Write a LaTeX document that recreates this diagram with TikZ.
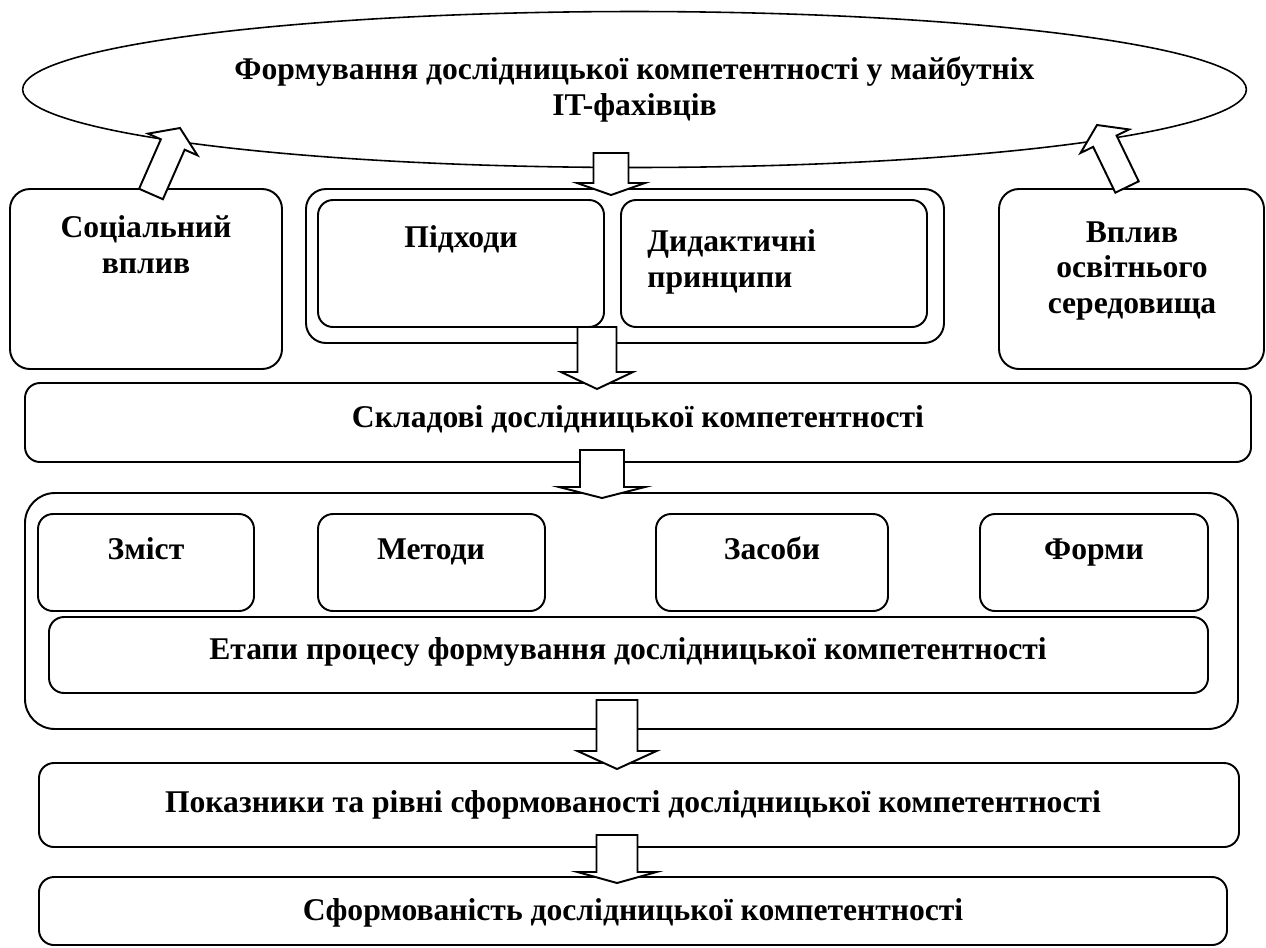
\documentclass[tikz,border=0pt]{standalone}
\usepackage{fontspec}
\setmainfont{Liberation Serif}
\usetikzlibrary{calc,fit,shapes.geometric}

\tikzset{
  box/.style={draw, line width=1.1pt, rounded corners=0.3cm, inner sep=0pt},
  fatarr/.style={draw, fill=white, line width=1.1pt, line join=miter},
  lbl/.style={font=\bfseries\fontsize{18}{20}\selectfont, inner sep=0pt, align=center},
}
% block arrow: start, tip, half shaft, half head, head length
\newcommand{\fatarrow}[5]{%
  \path ($(#2)!#5!(#1)$) coordinate (neck);
  \draw[fatarr] ($(#1)!#3!90:(#2)$) -- ($(neck)!#3!90:(#2)$) -- ($(neck)!#4!90:(#2)$) -- (#2)
    -- ($(neck)!#4!-90:(#2)$) -- ($(neck)!#3!-90:(#2)$) -- ($(#1)!#3!-90:(#2)$) -- cycle;
}

\begin{document}
\begin{tikzpicture}[x=0.02cm, y=-0.02cm]
        \useasboundingbox (0,0) rectangle (1266,947);
        \coordinate (S1) at (151,194);
        \coordinate (T1) at (180,128);
        \coordinate (S2) at (1127,187);
        \coordinate (T2) at (1097,125);
        \coordinate (S3) at (611,153);
        \coordinate (T3) at (611,195);
        \coordinate (S4) at (597,327);
        \coordinate (T4) at (597,389);
        \coordinate (S5) at (602,450);
        \coordinate (T5) at (602,498);
        \coordinate (S6) at (617,700);
        \coordinate (T6) at (617,769);
        \coordinate (S7) at (617,835);
        \coordinate (T7) at (617,883);

        % Goal.
        \node[draw, ellipse, line width=0.9pt, minimum width=24.48cm, minimum height=3.12cm, lbl] (goal) at (634.5,89.5)
            {Формування дослідницької компетентності у майбутніх\\IT-фахівців};

        % Factors.
        \node[box, rounded corners=0.4cm, fit={(10,189) (282,369)}] (soc) {};
        \node[lbl, anchor=base] (socT) at (146,273) {Соціальний\\вплив};
        \node[box, rounded corners=0.4cm, fit={(999,189) (1264,369)}] (vpl) {};
        \node[lbl, anchor=base] (vplT) at (1132,313) {Вплив\\освітнього\\середовища};
        \node[box, rounded corners=0.4cm, fit={(306,189) (944,343)}] (grp1) {};
        \node[box, fit={(318,200) (604,327)}] (pidh) {};
        \node[lbl, anchor=base] (pidhT) at (461,247) {Підходи};
        \node[box, fit={(621,200) (927,327)}] (dyd) {};
        \node[lbl, anchor=base west, align=left] (dydT) at (647,287) {Дидактичні\\принципи};

        % Components.
        \node[box, fit={(25,383) (1251,462)}] (skl) {};
        \node[lbl, anchor=base] (sklT) at (638,427) {Складові дослідницької компетентності};
        \node[box, rounded corners=0.6cm, fit={(25,493) (1238,729)}] (grp2) {};
        \node[box, fit={(38,514) (254,611)}] (zmist) {};
        \node[lbl, anchor=base] (zmistT) at (146,559) {Зміст};
        \node[box, fit={(318,514) (545,611)}] (metody) {};
        \node[lbl, anchor=base] (metodyT) at (431,559) {Методи};
        \node[box, fit={(656,514) (888,611)}] (zasoby) {};
        \node[lbl, anchor=base] (zasobyT) at (772,559) {Засоби};
        \node[box, fit={(980,514) (1208,611)}] (formy) {};
        \node[lbl, anchor=base] (formyT) at (1094,559) {Форми};
        \node[box, fit={(49,617) (1208,693)}] (etapy) {};
        \node[lbl, anchor=base] (etapyT) at (628,659) {Етапи процесу формування дослідницької компетентності};

        % Results.
        \node[box, fit={(39,763) (1239,847)}] (pokaz) {};
        \node[lbl, anchor=base] (pokazT) at (633,812) {Показники та рівні сформованості дослідницької компетентності};
        \node[box, fit={(39,877) (1227,945)}] (sform) {};
        \node[lbl, anchor=base] (sformT) at (633,920) {Сформованість дослідницької компетентності};

        % Arrows.
        \fatarrow{S1}{T1}{0.26cm}{0.54cm}{0.36cm}
        \fatarrow{S2}{T2}{0.26cm}{0.54cm}{0.36cm}
        \fatarrow{S3}{T3}{0.35cm}{0.68cm}{0.24cm}
        \fatarrow{S4}{T4}{0.39cm}{0.72cm}{0.34cm}
        \fatarrow{S5}{T5}{0.44cm}{0.86cm}{0.22cm}
        \fatarrow{S6}{T6}{0.41cm}{0.79cm}{0.36cm}
        \fatarrow{S7}{T7}{0.41cm}{0.79cm}{0.22cm}

\end{tikzpicture}
\end{document}
